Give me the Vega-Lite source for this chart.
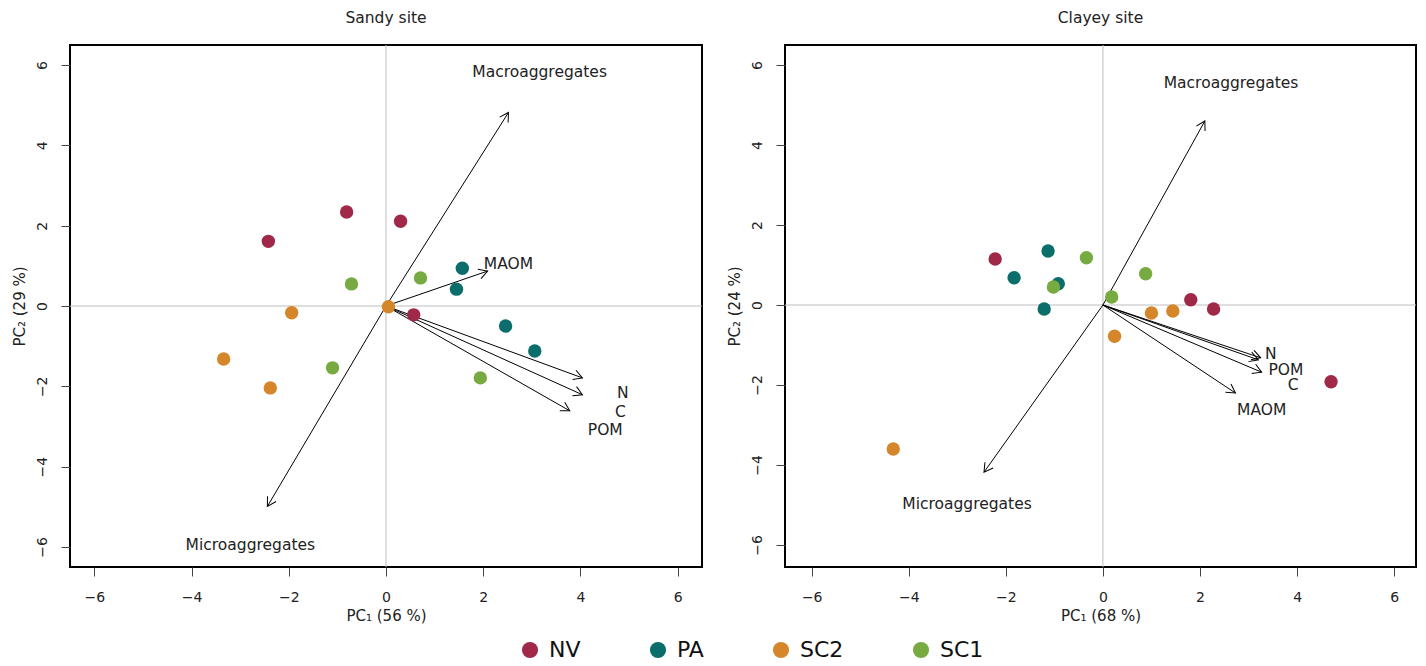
{
  "$schema": "https://vega.github.io/schema/vega-lite/v6.json",
  "background": "white",
  "padding": {"left": 10, "top": 10, "right": 12, "bottom": 5},
  "spacing": 21,
  "datasets": {
    "points": [
      {"site": "Sandy", "group": "NV", "pc1": -2.42, "pc2": 1.61},
      {"site": "Sandy", "group": "NV", "pc1": -0.81, "pc2": 2.34},
      {"site": "Sandy", "group": "NV", "pc1": 0.30, "pc2": 2.11},
      {"site": "Sandy", "group": "NV", "pc1": 0.57, "pc2": -0.22},
      {"site": "Sandy", "group": "PA", "pc1": 1.57, "pc2": 0.94},
      {"site": "Sandy", "group": "PA", "pc1": 1.45, "pc2": 0.42},
      {"site": "Sandy", "group": "PA", "pc1": 2.46, "pc2": -0.50},
      {"site": "Sandy", "group": "PA", "pc1": 3.06, "pc2": -1.12},
      {"site": "Sandy", "group": "SC2", "pc1": -1.94, "pc2": -0.17},
      {"site": "Sandy", "group": "SC2", "pc1": -3.34, "pc2": -1.32},
      {"site": "Sandy", "group": "SC2", "pc1": -2.38, "pc2": -2.04},
      {"site": "Sandy", "group": "SC2", "pc1": 0.05, "pc2": -0.02},
      {"site": "Sandy", "group": "SC1", "pc1": -0.71, "pc2": 0.55},
      {"site": "Sandy", "group": "SC1", "pc1": 0.71, "pc2": 0.70},
      {"site": "Sandy", "group": "SC1", "pc1": -1.10, "pc2": -1.54},
      {"site": "Sandy", "group": "SC1", "pc1": 1.94, "pc2": -1.79},
      {"site": "Clayey", "group": "NV", "pc1": -2.22, "pc2": 1.15},
      {"site": "Clayey", "group": "NV", "pc1": 1.81, "pc2": 0.13},
      {"site": "Clayey", "group": "NV", "pc1": 2.28, "pc2": -0.10},
      {"site": "Clayey", "group": "NV", "pc1": 4.70, "pc2": -1.92},
      {"site": "Clayey", "group": "PA", "pc1": -1.13, "pc2": 1.35},
      {"site": "Clayey", "group": "PA", "pc1": -1.83, "pc2": 0.68},
      {"site": "Clayey", "group": "PA", "pc1": -0.92, "pc2": 0.53},
      {"site": "Clayey", "group": "PA", "pc1": -1.21, "pc2": -0.10},
      {"site": "Clayey", "group": "SC2", "pc1": 1.00, "pc2": -0.20},
      {"site": "Clayey", "group": "SC2", "pc1": 1.44, "pc2": -0.15},
      {"site": "Clayey", "group": "SC2", "pc1": 0.24, "pc2": -0.78},
      {"site": "Clayey", "group": "SC2", "pc1": -4.32, "pc2": -3.60},
      {"site": "Clayey", "group": "SC1", "pc1": -0.34, "pc2": 1.18},
      {"site": "Clayey", "group": "SC1", "pc1": 0.88, "pc2": 0.78},
      {"site": "Clayey", "group": "SC1", "pc1": -1.02, "pc2": 0.45},
      {"site": "Clayey", "group": "SC1", "pc1": 0.18, "pc2": 0.20}
    ],
    "arrows": [
      {"site": "Sandy", "var": "Macroaggregates", "x": 2.52, "y": 4.82, "lx": 3.16, "ly": 5.84},
      {"site": "Sandy", "var": "Microaggregates", "x": -2.44, "y": -4.99, "lx": -2.79, "ly": -5.94},
      {"site": "Sandy", "var": "MAOM", "x": 2.09, "y": 0.87, "lx": 2.52, "ly": 1.04},
      {"site": "Sandy", "var": "N", "x": 4.04, "y": -1.79, "lx": 4.87, "ly": -2.16},
      {"site": "Sandy", "var": "C", "x": 4.04, "y": -2.21, "lx": 4.82, "ly": -2.63},
      {"site": "Sandy", "var": "POM", "x": 3.78, "y": -2.61, "lx": 4.51, "ly": -3.10},
      {"site": "Clayey", "var": "Macroaggregates", "x": 2.10, "y": 4.60, "lx": 2.64, "ly": 5.55},
      {"site": "Clayey", "var": "Microaggregates", "x": -2.45, "y": -4.18, "lx": -2.80, "ly": -4.98},
      {"site": "Clayey", "var": "N", "x": 3.25, "y": -1.32, "lx": 3.46, "ly": -1.22},
      {"site": "Clayey", "var": "C", "x": 3.20, "y": -1.37, "lx": 3.92, "ly": -2.00},
      {"site": "Clayey", "var": "POM", "x": 3.27, "y": -1.68, "lx": 3.77, "ly": -1.62},
      {"site": "Clayey", "var": "MAOM", "x": 2.73, "y": -2.20, "lx": 3.27, "ly": -2.62}
    ]
  },
  "hconcat": [
    {
      "title": {"text": "Sandy site"},
      "width": 632,
      "height": 522,
      "layer": [
        {
          "data": {"name": "points"},
          "transform": [{"filter": "datum.site == 'Sandy'"}],
          "mark": {"type": "circle", "size": 0, "opacity": 0},
          "encoding": {
            "x": {"field": "pc1", "type": "quantitative", "title": "PC₁ (56 %)", "axis": {"values": [-6, -4, -2, 0, 2, 4, 6]}, "scale": {"domain": [-6.5, 6.5], "nice": false, "zero": false}},
            "y": {"field": "pc2", "type": "quantitative", "title": "PC₂ (29 %)", "axis": {"values": [-6, -4, -2, 0, 2, 4, 6]}, "scale": {"domain": [-6.5, 6.5], "nice": false, "zero": false}}
          }
        },
        {
          "data": {"values": [{"v": 0}]},
          "mark": {"type": "rule", "color": "#BEBEBE", "strokeWidth": 1},
          "encoding": {"x": {"field": "v", "type": "quantitative"}}
        },
        {
          "data": {"values": [{"v": 0}]},
          "mark": {"type": "rule", "color": "#BEBEBE", "strokeWidth": 1},
          "encoding": {"y": {"field": "v", "type": "quantitative"}}
        },
        {
          "data": {"name": "arrows"},
          "transform": [{"filter": "datum.site == 'Sandy'"}, {"calculate": "0", "as": "o"}],
          "mark": {"type": "rule", "color": "black", "strokeWidth": 1},
          "encoding": {
            "x": {"field": "o", "type": "quantitative"},
            "y": {"field": "o", "type": "quantitative"},
            "x2": {"field": "x"},
            "y2": {"field": "y"}
          }
        },
        {
          "data": {"name": "arrows"},
          "transform": [
            {"filter": "datum.site == 'Sandy'"},
            {"calculate": "90 - atan2(datum.y * 40.15, datum.x * 48.6) * 180 / PI", "as": "ang"}
          ],
          "mark": {"type": "point", "shape": "M-0.5,0.866L0,0L0.5,0.866", "size": 400, "filled": false, "stroke": "black", "strokeWidth": 1, "opacity": 1},
          "encoding": {
            "x": {"field": "x", "type": "quantitative"},
            "y": {"field": "y", "type": "quantitative"},
            "angle": {"field": "ang", "type": "quantitative", "scale": null}
          }
        },
        {
          "data": {"name": "points"},
          "transform": [{"filter": "datum.site == 'Sandy'"}],
          "mark": {"type": "circle", "size": 180, "opacity": 1},
          "encoding": {
            "x": {"field": "pc1", "type": "quantitative"},
            "y": {"field": "pc2", "type": "quantitative"},
            "color": {"field": "group", "type": "nominal", "scale": {"domain": ["NV", "PA", "SC2", "SC1"], "range": ["#A0294A", "#0B6E6A", "#D5862A", "#77AA40"]},
              "legend": {"orient": "none", "legendX": 449, "legendY": 594}}
          }
        },
        {
          "data": {"name": "arrows"},
          "transform": [{"filter": "datum.site == 'Sandy'"}],
          "mark": {"type": "text", "fontSize": 15.5, "font": "DejaVu Sans", "color": "#222222"},
          "encoding": {
            "x": {"field": "lx", "type": "quantitative"},
            "y": {"field": "ly", "type": "quantitative"},
            "text": {"field": "var"}
          }
        }
      ]
    },
    {
      "title": {"text": "Clayey site"},
      "width": 631,
      "height": 522,
      "layer": [
        {
          "data": {"name": "points"},
          "transform": [{"filter": "datum.site == 'Clayey'"}],
          "mark": {"type": "circle", "size": 0, "opacity": 0},
          "encoding": {
            "x": {"field": "pc1", "type": "quantitative", "title": "PC₁ (68 %)", "axis": {"values": [-6, -4, -2, 0, 2, 4, 6]}, "scale": {"domain": [-6.55, 6.45], "nice": false, "zero": false}},
            "y": {"field": "pc2", "type": "quantitative", "title": "PC₂ (24 %)", "axis": {"values": [-6, -4, -2, 0, 2, 4, 6]}, "scale": {"domain": [-6.55, 6.5], "nice": false, "zero": false}}
          }
        },
        {
          "data": {"values": [{"v": 0}]},
          "mark": {"type": "rule", "color": "#BEBEBE", "strokeWidth": 1},
          "encoding": {"x": {"field": "v", "type": "quantitative"}}
        },
        {
          "data": {"values": [{"v": 0}]},
          "mark": {"type": "rule", "color": "#BEBEBE", "strokeWidth": 1},
          "encoding": {"y": {"field": "v", "type": "quantitative"}}
        },
        {
          "data": {"name": "arrows"},
          "transform": [{"filter": "datum.site == 'Clayey'"}, {"calculate": "0", "as": "o"}],
          "mark": {"type": "rule", "color": "black", "strokeWidth": 1},
          "encoding": {
            "x": {"field": "o", "type": "quantitative"},
            "y": {"field": "o", "type": "quantitative"},
            "x2": {"field": "x"},
            "y2": {"field": "y"}
          }
        },
        {
          "data": {"name": "arrows"},
          "transform": [
            {"filter": "datum.site == 'Clayey'"},
            {"calculate": "90 - atan2(datum.y * 40.0, datum.x * 48.4) * 180 / PI", "as": "ang"}
          ],
          "mark": {"type": "point", "shape": "M-0.5,0.866L0,0L0.5,0.866", "size": 400, "filled": false, "stroke": "black", "strokeWidth": 1, "opacity": 1},
          "encoding": {
            "x": {"field": "x", "type": "quantitative"},
            "y": {"field": "y", "type": "quantitative"},
            "angle": {"field": "ang", "type": "quantitative", "scale": null}
          }
        },
        {
          "data": {"name": "points"},
          "transform": [{"filter": "datum.site == 'Clayey'"}],
          "mark": {"type": "circle", "size": 180, "opacity": 1},
          "encoding": {
            "x": {"field": "pc1", "type": "quantitative"},
            "y": {"field": "pc2", "type": "quantitative"},
            "color": {"field": "group", "type": "nominal", "scale": {"domain": ["NV", "PA", "SC2", "SC1"], "range": ["#A0294A", "#0B6E6A", "#D5862A", "#77AA40"]},
              "legend": {"orient": "none", "legendX": 449, "legendY": 594}}
          }
        },
        {
          "data": {"name": "arrows"},
          "transform": [{"filter": "datum.site == 'Clayey'"}],
          "mark": {"type": "text", "fontSize": 15.5, "font": "DejaVu Sans", "color": "#222222"},
          "encoding": {
            "x": {"field": "lx", "type": "quantitative"},
            "y": {"field": "ly", "type": "quantitative"},
            "text": {"field": "var"}
          }
        }
      ]
    }
  ],
  "resolve": {"scale": {"color": "shared"}},
  "config": {
    "font": "DejaVu Sans",
    "view": {"stroke": "black", "strokeWidth": 2},
    "title": {"fontSize": 15.5, "fontWeight": "normal", "color": "#222222", "offset": 18, "anchor": "middle"},
    "axis": {
      "grid": false,
      "domain": false,
      "tickColor": "#444444",
      "tickSize": 9,
      "labelFontSize": 14,
      "labelColor": "#222222",
      "titleFontSize": 15,
      "titleFontWeight": "normal",
      "titleColor": "#222222",
      "labelFlush": false,
      "labelOverlap": false
    },
    "axisX": {"labelPadding": 14, "titlePadding": 4},
    "axisY": {"labelAngle": -90, "labelAlign": "center", "labelBaseline": "bottom", "labelPadding": 12, "titlePadding": 8},
    "legend": {
      "direction": "horizontal",
      "title": null,
      "symbolType": "circle",
      "symbolSize": 260,
      "symbolOpacity": 1,
      "labelFontSize": 22,
      "labelColor": "#111111",
      "columnPadding": 66,
      "labelOffset": 8,
      "symbolStrokeWidth": 0
    }
  }
}
